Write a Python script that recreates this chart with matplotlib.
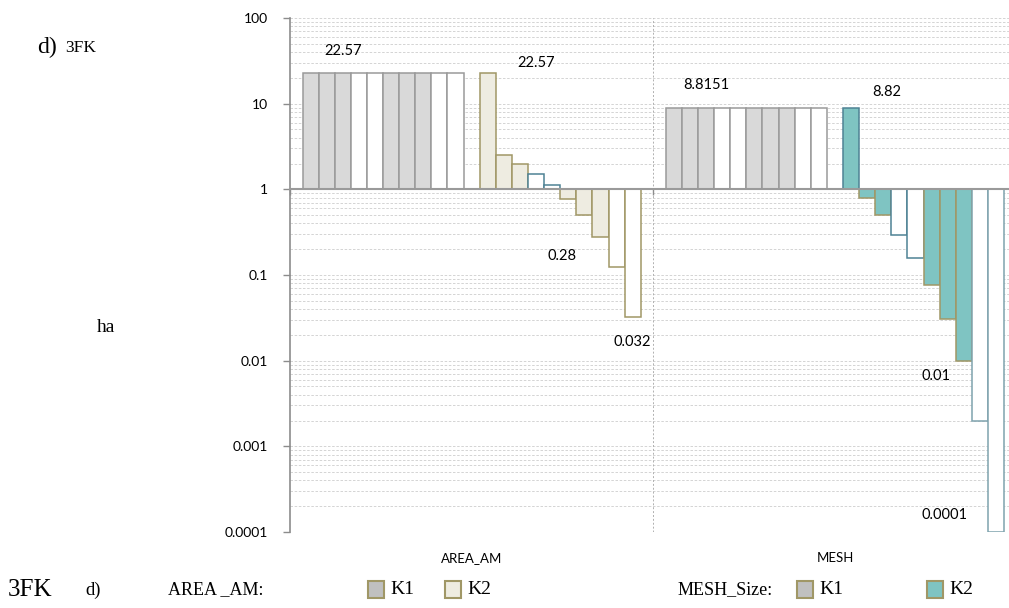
import matplotlib
matplotlib.use("Agg")
import matplotlib.pyplot as plt
from matplotlib.patches import Rectangle
from matplotlib.ticker import LogLocator, NullFormatter, FixedLocator

# ---------------- data ----------------
categories = ["AREA_AM", "MESH"]
area_k1 = [22.57] * 10
area_k2 = [22.57, 2.55, 2.0, 1.52, 1.12, 0.78, 0.507, 0.28, 0.125, 0.032]
mesh_k1 = [8.8151] * 10
mesh_k2 = [8.82, 0.80, 0.507, 0.296, 0.158, 0.077, 0.031, 0.01, 0.002, 0.0001]
ytick_vals = [0.0001, 0.001, 0.01, 0.1, 1, 10, 100]
ytick_labels = ["0.0001", "0.001", "0.01", "0.1", "1", "10", "100"]

# ---------------- styles ----------------
GREY = "#d9d9d9"
BEIGE = "#eeece1"
TEAL = "#7fc4c2"
WHITE = "#ffffff"
E_GREY = "#9a9a9a"
E_OLIVE = "#a09766"
E_TEAL = "#4e8294"
E_BLUE = "#7fa3ae"

k1_fill = [GREY, GREY, GREY, WHITE, WHITE, GREY, GREY, GREY, WHITE, WHITE]
area_k2_fill = [BEIGE, BEIGE, BEIGE, WHITE, WHITE, BEIGE, BEIGE, BEIGE, WHITE, WHITE]
area_k2_edge = [E_OLIVE, E_OLIVE, E_OLIVE, E_TEAL, E_TEAL, E_OLIVE, E_OLIVE, E_OLIVE, E_OLIVE, E_OLIVE]
mesh_k2_fill = [TEAL, TEAL, TEAL, WHITE, WHITE, TEAL, TEAL, TEAL, WHITE, WHITE]
mesh_k2_edge = [E_TEAL, E_OLIVE, E_OLIVE, E_TEAL, E_TEAL, E_OLIVE, E_OLIVE, E_OLIVE, E_BLUE, E_BLUE]

W, H = 1009, 608
fig = plt.figure(figsize=(W / 100, H / 100), dpi=100)
ax_left, ax_right, ax_top, ax_bot = 290, 1016.6, 18, 532
ax = fig.add_axes([ax_left / W, 1 - ax_bot / H, (ax_right - ax_left) / W, (ax_bot - ax_top) / H])
ax.set_yscale("log")
ax.set_ylim(0.0001, 100)
ax.set_xlim(0, 2)

nslots = 21
w = 1.0 / (nslots + 2 * 0.78)
margin = (1 - nslots * w) / 2

def slot_x(group, k):
    return group + margin + (k + 0.5) * w

def draw(group, start, vals, fills, edges):
    for i, v in enumerate(vals):
        x = slot_x(group, start + i)
        ax.bar(x, v - 1, bottom=1, width=w, color=fills[i], edgecolor=edges[i],
               linewidth=1.1, zorder=3)

draw(0, 0, area_k1, k1_fill, [E_GREY] * 10)
draw(0, 11, area_k2, area_k2_fill, area_k2_edge)
draw(1, 0, mesh_k1, k1_fill, [E_GREY] * 10)
draw(1, 11, mesh_k2, mesh_k2_fill, mesh_k2_edge)

# grid
for dec in range(-4, 2):
    for m in range(1, 10):
        yv = m * 10.0 ** dec
        ax.axhline(yv, color="#cdcdcd", lw=0.6, ls=(0, (3, 2)), zorder=1)
ax.axhline(100, color="#cdcdcd", lw=0.6, ls=(0, (3, 2)), zorder=1)
ax.axvline(1, color="#b0b0b0", lw=0.7, ls=(0, (2, 2)), zorder=1)

# axes styling
for s in ["top", "right"]:
    ax.spines[s].set_visible(False)
ax.spines["left"].set_color("#8c8c8c")
ax.spines["left"].set_linewidth(1.2)
ax.spines["bottom"].set_position(("data", 1))
ax.spines["bottom"].set_color("#9a9a9a")
ax.spines["bottom"].set_linewidth(1.5)
ax.spines["bottom"].set_zorder(4)
ax.yaxis.set_major_locator(FixedLocator(ytick_vals))
ax.set_yticklabels(ytick_labels)
ax.yaxis.set_minor_locator(LogLocator(subs=[]))
ax.yaxis.set_minor_formatter(NullFormatter())
ax.tick_params(axis="y", which="major", direction="out", length=5, width=1,
               color="#8c8c8c", labelsize=10, pad=11)
ax.tick_params(axis="y", which="minor", length=0)
ax.set_xticks([0, 1, 2])
ax.set_xticklabels(["", "", ""])
ax.tick_params(axis="x", direction="out", length=4, width=1, color="#8c8c8c")
for lab in ax.get_yticklabels():
    lab.set_fontfamily("Lato")

# category labels
for i, c in enumerate(categories):
    ax.text(i + 0.5, -0.05, c, transform=ax.get_xaxis_transform(), ha="center",
            va="center", fontsize=9.5, family="Lato")

# data labels
lab_font = dict(fontsize=10.5, family="Lato", ha="center", va="center", zorder=5)
ax.text(slot_x(0, 2), 41.1, "22.57", **lab_font)
ax.text(slot_x(0, 14), 29.5, "22.57", **lab_font)
ax.text(slot_x(0, 15.6), 0.165, "0.28", **lab_font)
ax.text(slot_x(0, 20), 0.0165, "0.032", **lab_font)
ax.text(slot_x(1, 2), 16.35, "8.8151", **lab_font)
ax.text(slot_x(1, 13.2), 13.66, "8.82", **lab_font)
ax.text(slot_x(1, 16.3), 0.0066, "0.01", **lab_font)
ax.text(slot_x(1, 16.8), 0.000157, "0.0001", **lab_font)

# figure texts
serif = "Liberation Serif"
fig.text(37 / W, 1 - 47 / H, "d)", fontsize=17, family=serif, va="center", ha="left")
fig.text(65 / W, 1 - 48 / H, "3FK", fontsize=12.5, family=serif, va="center", ha="left")
fig.text(97 / W, 1 - 328 / H, "ha", fontsize=14, family=serif, va="center", ha="left")

yb = 1 - 590 / H
fig.text(8 / W, yb, "3FK", fontsize=18, family=serif, va="center", ha="left")
fig.text(85 / W, yb, "d)", fontsize=13.5, family=serif, va="center", ha="left")
fig.text(168 / W, yb, "AREA _AM:", fontsize=13, family=serif, va="center", ha="left")
fig.text(678 / W, yb, "MESH_Size:", fontsize=13, family=serif, va="center", ha="left")

legend_items = [(368, GREY, "K1"), (445, BEIGE, "K2"), (797, GREY, "K1"), (927, TEAL, "K2")]
for x0, col, txt in legend_items:
    fc = "#c0c0c0" if col == GREY else col
    fig.patches.append(Rectangle((x0 / W, 1 - 598 / H), 16 / W, 17 / H, transform=fig.transFigure,
                                 facecolor=fc, edgecolor=E_OLIVE, linewidth=1.5))
    fig.text((x0 + 22) / W, yb, txt, fontsize=14, family=serif, va="center", ha="left")

fig.savefig("out.png", dpi=100)
